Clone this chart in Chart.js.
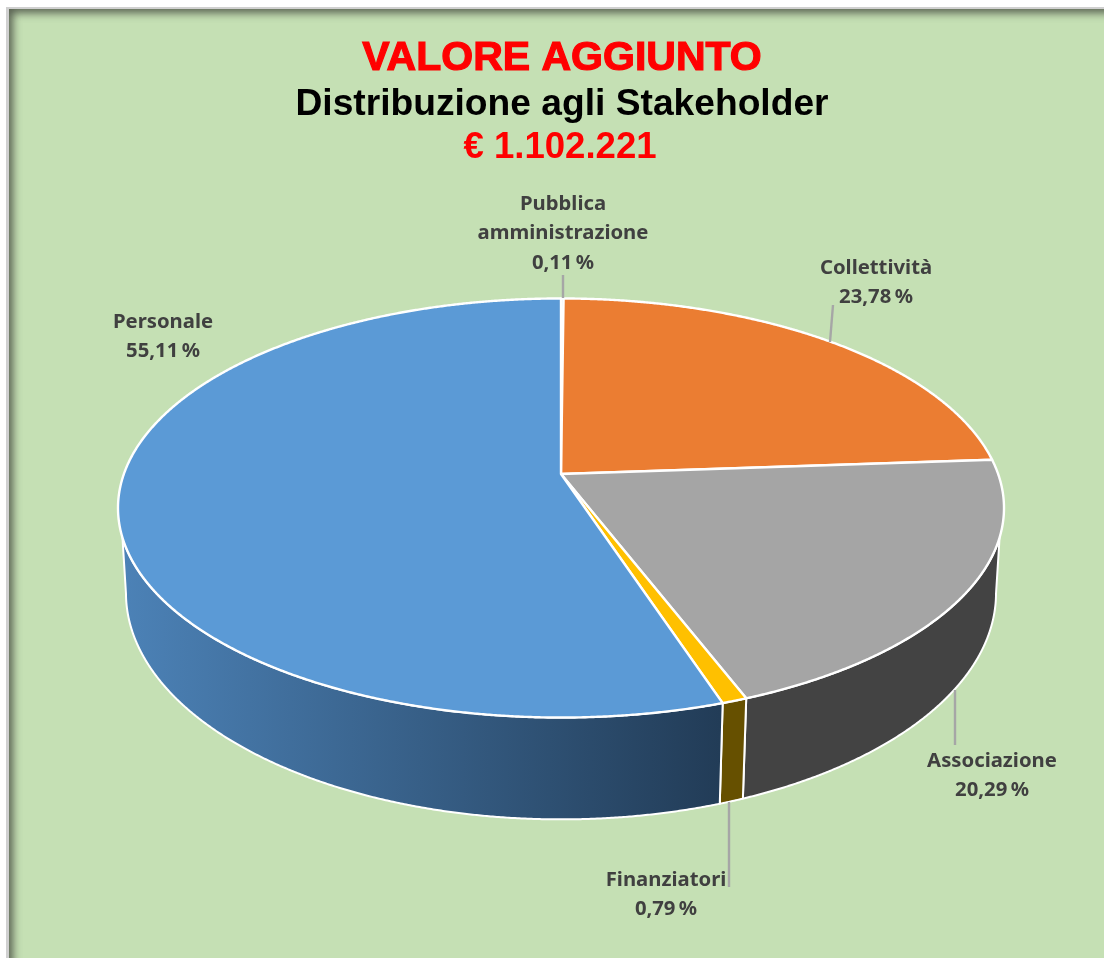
<!DOCTYPE html>
<html lang="it">
<head>
<meta charset="utf-8">
<title>Valore aggiunto</title>
<style>
html,body{margin:0;padding:0;width:1104px;height:958px;overflow:hidden;background:#fff}
#frame{position:absolute;left:6px;top:7px;width:1200px;height:1100px;box-sizing:border-box;background:#c5e0b4;border:3px solid #d0d0d0;border-top-width:2px;box-shadow:inset 3px 3px 8px 1px rgba(70,75,65,.85)}
#c{position:absolute;left:0;top:0}
</style>
<script src="https://cdn.jsdelivr.net/npm/chart.js@4"></script>
</head>
<body>
<div id="frame"></div>
<canvas id="c" width="1104" height="958"></canvas>
<script>
const categories = ['Pubblica amministrazione','Collettività','Associazione','Finanziatori','Personale'];
const shares = [0.11, 23.78, 20.29, 0.79, 55.11];
const topColors = ['#4472c4','#eb7d32','#a5a5a5','#ffc000','#5b9ad6'];
const sideColors = ['#2f5597','#9c5320','#434343','#665000',null];
const titleLines = ['VALORE AGGIUNTO','Distribuzione agli Stakeholder','€ 1.102.221'];

// label placement: text centre x, first line y, leader line
const labelLayout = [
  {x:563, y:204, line:[563,275,563,298]},
  {x:876, y:268, line:[833,305,830,342]},
  {x:992, y:761, line:[955,690,955,745]},
  {x:666, y:880, line:[729,802,729,887]},
  {x:163, y:322, line:null}
];

const TILT = -0.162;            // perspective shift of the pie centre
const TOP_RY = 0.473;           // top ellipse height / radius
const BOT_RX = 0.982, BOT_RY = 0.511, BOT_DY = 85; // lower rim ellipse

function unit(angle){
  const th = angle + Math.PI/2, u = Math.sin(th), v = -Math.cos(th);
  const den = 1 + TILT*v;
  return {u: u*Math.sqrt(1-TILT*TILT)/den, v: (v+TILT)/den};
}
function topPt(a,p){ return [a.x + a.outerRadius*p.u, a.y + a.outerRadius*TOP_RY*p.v]; }
function botPt(a,p){ return [a.x + a.outerRadius*BOT_RX*p.u, a.y + BOT_DY + a.outerRadius*BOT_RY*p.v]; }
function tracePoly(ctx,pts){ ctx.beginPath(); pts.forEach((q,i)=> i?ctx.lineTo(q[0],q[1]):ctx.moveTo(q[0],q[1])); ctx.closePath(); }

const pie3d = {
  id:'pie3d',
  beforeDatasetsDraw(chart){
    const ctx = chart.ctx, arcs = chart.getDatasetMeta(0).data;
    ctx.save();
    ctx.lineJoin = 'round';
    // rim
    arcs.forEach((a,i)=>{
      const n = Math.max(2, Math.ceil((a.endAngle-a.startAngle)/0.004));
      const tops=[], bots=[];
      for(let k=0;k<=n;k++){
        const p = unit(a.startAngle + (a.endAngle-a.startAngle)*k/n);
        if(p.v>=0.138) tops.push(topPt(a,p));
        if(p.v>=0) bots.push(botPt(a,p));
      }
      if(bots.length<2) return;
      const pts = tops.concat(bots.reverse());
      let fill = sideColors[i];
      if(!fill){
        fill = ctx.createLinearGradient(120,0,720,0);
        fill.addColorStop(0,'#4c82b7');
        fill.addColorStop(1,'#223c57');
      }
      tracePoly(ctx,pts);
      ctx.fillStyle = fill; ctx.fill();
      ctx.strokeStyle = '#fff'; ctx.lineWidth = 2; ctx.stroke();
    });
    // top faces
    arcs.forEach((a,i)=>{
      const n = Math.max(2, Math.ceil((a.endAngle-a.startAngle)/0.004));
      const pts = [topPt(a,{u:0,v:TILT})];
      for(let k=0;k<=n;k++) pts.push(topPt(a,unit(a.startAngle + (a.endAngle-a.startAngle)*k/n)));
      tracePoly(ctx,pts);
      ctx.fillStyle = topColors[i]; ctx.fill();
      ctx.strokeStyle = '#fff'; ctx.lineWidth = 2.4; ctx.stroke();
    });
    ctx.restore();
    return false;
  },
  afterDraw(chart){
    const ctx = chart.ctx;
    ctx.save();
    ctx.textAlign='center'; ctx.textBaseline='middle';
    // title
    ctx.fillStyle='#ff0000'; ctx.strokeStyle='#ff0000'; ctx.lineWidth=1.2;
    ctx.font='bold 41px "Liberation Sans", Arial, sans-serif';
    ctx.fillText(titleLines[0],562,59); ctx.strokeText(titleLines[0],562,59);
    ctx.fillStyle='#000';
    ctx.font='bold 37.2px "Liberation Sans", Arial, sans-serif';
    ctx.fillText(titleLines[1],562,105);
    ctx.fillStyle='#ff0000';
    ctx.font='bold 36.6px "Liberation Sans", Arial, sans-serif';
    ctx.fillText(titleLines[2],560,148);
    // leader lines and labels
    ctx.strokeStyle='#a6a6a6'; ctx.lineWidth=2.4;
    labelLayout.forEach(l=>{
      if(!l.line) return;
      ctx.beginPath(); ctx.moveTo(l.line[0],l.line[1]); ctx.lineTo(l.line[2],l.line[3]); ctx.stroke();
    });
    ctx.fillStyle='#404040';
    ctx.font='bold 20.3px "Noto Sans", "Open Sans", sans-serif';
    categories.forEach((name,i)=>{
      const l = labelLayout[i];
      const lines = name.split(' ').concat(shares[i].toFixed(2).replace('.',',')+'\u2009%');
      lines.forEach((t,k)=> ctx.fillText(t,l.x,l.y+k*29.5));
    });
    ctx.restore();
  }
};

new Chart(document.getElementById('c'),{
  type:'pie',
  data:{labels:categories,datasets:[{data:shares,backgroundColor:topColors,borderColor:'#fff',borderWidth:2}]},
  plugins:[pie3d],
  options:{
    responsive:false,animation:false,
    layout:{padding:{left:117,right:99,top:64,bottom:6}},
    plugins:{legend:{display:false},tooltip:{enabled:false},title:{display:false}}
  }
});
</script>
</body>
</html>
